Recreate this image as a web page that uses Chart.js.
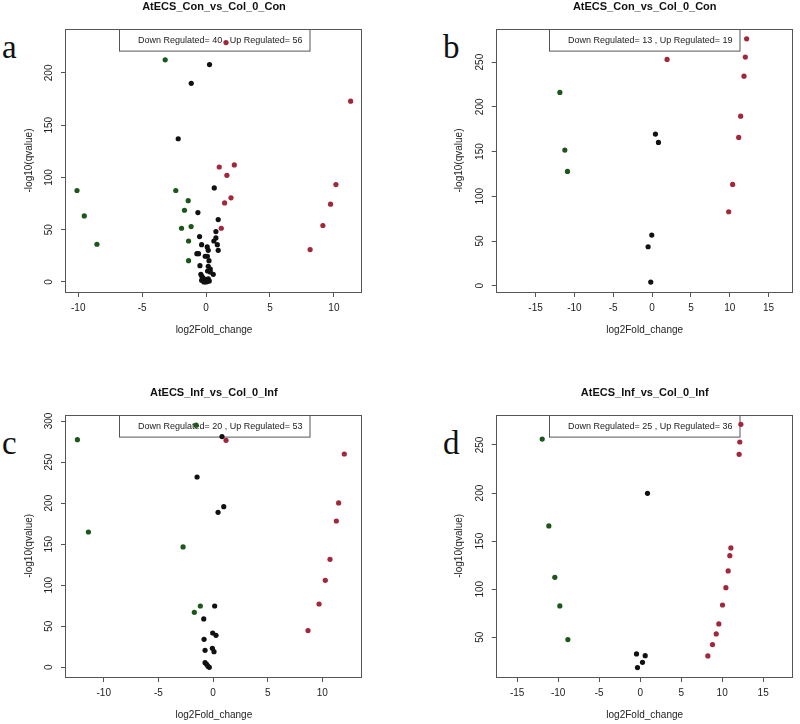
<!DOCTYPE html>
<html><head><meta charset="utf-8">
<script src="https://cdn.jsdelivr.net/npm/chart.js@4.4.1/dist/chart.umd.min.js"></script>
<style>
body{margin:0;background:#fff;width:800px;height:724px;position:relative;overflow:hidden;}
canvas{position:absolute;}
.lab{position:absolute;font-family:"Liberation Serif","DejaVu Serif",serif;font-size:33px;line-height:33px;color:#111;}
</style></head><body>
<div class="lab" style="left:2px;top:30.6px">a</div>
<div class="lab" style="left:443px;top:30.6px">b</div>
<div class="lab" style="left:2px;top:427.3px">c</div>
<div class="lab" style="left:443px;top:427.3px">d</div>
<script>
// ---- data ----
const titleA = "AtECS_Con_vs_Col_0_Con";
const titleB = "AtECS_Con_vs_Col_0_Con";
const titleC = "AtECS_Inf_vs_Col_0_Inf";
const titleD = "AtECS_Inf_vs_Col_0_Inf";
const countsA = [40, 56];
const countsB = [13, 19];
const countsC = [20, 53];
const countsD = [25, 36];

const aDownX = [-10.1, -9.53, -8.54, -3.2, -2.37, -1.40, -1.69, -1.92, -1.37, -1.17, -1.37];
const aDownY = [87.5, 63.2, 36.1, 212.5, 87.5, 77.8, 68.6, 51.4, 20.4, 53, 39.2];
const aNsX = [-2.18, -1.16, 0.27, -0.64, 0.64, 0.95, 0.77, 0.77, 0.88, 0.95, 0.61, -0.51, -0.35, 0.09, 0.17, -0.72, -0.59, -0.07, 0.10, 0.23, -0.48, 0.17, 0.33, 0.12, 0.33, 0.56, -0.41, -0.33, -0.22, -0.10, 0.03, -0.35, 0.17, 0.25, -0.17, 0.00, 0.14];
const aNsY = [137, 190, 208, 66.4, 90, 59.7, 48.2, 42.1, 35.7, 30.3, 39.2, 43.4, 35.7, 33.5, 30.3, 27.1, 27.1, 24.6, 24.6, 20.4, 15.6, 15, 12.4, 10.5, 9.6, 7.3, 7.3, 5.4, 3.8, 2.2, 1.6, 1.6, 2.9, 1, 0, 0, 0.6];
const aUpX = [1.56, 11.31, 1.03, 2.21, 1.63, 1.45, 1.95, 1.19, 10.16, 9.74, 9.14, 8.14];
const aUpY = [229, 173, 110, 112, 102, 75.6, 80.5, 51.4, 93.2, 74.4, 54, 31];

const bDownX = [-11.87, -11.23, -10.89];
const bDownY = [216.1, 151.6, 127.8];
const bNsX = [0.43, 0.82, -0.04, -0.51, -0.17];
const bNsY = [169.5, 160.2, 56.6, 43.6, 4.1];
const bUpX = [1.93, 12.17, 12.0, 11.83, 11.4, 11.15, 10.37, 9.86];
const bUpY = [253, 276, 255.6, 234.3, 189.6, 165.8, 113.3, 82.7];

const cDownX = [-12.41, -11.4, -2.74, -1.16, -1.71, -1.55];
const cDownY = [277.3, 164.8, 146.6, 74.7, 67, 295];
const cNsX = [-1.46, 0.82, 0.46, 0.98, 0.15, -0.85, -0.82, -0.73, -0.03, 0.27, -0.06, 0.09, -0.73, -0.58, -0.46, -0.34];
const cNsY = [231.8, 281, 188.8, 195.7, 74.7, 58.9, 34.1, 20.7, 41.8, 39, 23.1, 19.1, 5.7, 3.7, 1.2, 0];
const cUpX = [1.19, 12.01, 11.49, 11.28, 10.7, 10.27, 9.7, 8.69];
const cUpY = [276.5, 259.8, 200.2, 178.2, 131.5, 106, 77.1, 44.7];

const dDownX = [-11.95, -11.14, -10.41, -9.8, -8.82];
const dDownY = [256.2, 165.8, 112.4, 82.6, 47.6];
const dNsX = [0.89, -0.45, 0.61, 0.28, -0.33];
const dNsY = [199.7, 32.7, 30.9, 24, 18.5];
const dUpX = [12.28, 12.15, 12.07, 11.06, 10.93, 10.73, 10.45, 10.04, 9.59, 9.27, 8.82, 8.25];
const dUpY = [271.5, 253.1, 240.3, 142.9, 134.9, 119, 101.6, 83.6, 63.9, 53.5, 42.4, 30.6];

const xTicksA = [-10, -5, 0, 5, 10];
const yTicksA = [0, 50, 100, 150, 200];
const xTicksB = [-15, -10, -5, 0, 5, 10, 15];
const yTicksB = [0, 50, 100, 150, 200, 250];
const xTicksC = [-10, -5, 0, 5, 10];
const yTicksC = [0, 50, 100, 150, 200, 250, 300];
const xTicksD = [-15, -10, -5, 0, 5, 10, 15];
const yTicksD = [50, 100, 150, 200, 250];

const xLabel = "log2Fold_change";
const yLabel = "-log10(qvalue)";

// ---- drawing ----
const FONT = '"Liberation Sans", Arial, Helvetica, sans-serif';
const COL_NS = '#111111', COL_DOWN = '#1b561b', COL_UP = '#a3263a', AXIS = '#555555', TXT = '#222222';

function zip(xs, ys) { return xs.map((x, i) => ({x: x, y: ys[i]})); }

const framePlugin = {
  id: 'frameLegend',
  beforeDatasetsDraw(chart, args, opts) {
    const ctx = chart.ctx, ca = chart.chartArea;
    const w = 190.5, h = 21.6;
    const cx = (ca.left + ca.right) / 2;
    const x0 = Math.round(cx - w / 2) + 0.5, y0 = Math.round(ca.top) + 0.5;
    ctx.save();
    ctx.fillStyle = '#fff';
    ctx.fillRect(x0, y0, w, h);
    ctx.strokeStyle = AXIS; ctx.lineWidth = 1;
    ctx.strokeRect(x0, y0, w, h);
    ctx.fillStyle = TXT;
    ctx.font = '9px ' + FONT;
    ctx.textAlign = 'left'; ctx.textBaseline = 'middle';
    ctx.fillText(opts.text, x0 + 18.5, y0 + h / 2 + 0.5);
    ctx.restore();
  },
  afterDatasetsDraw(chart) {
    const ctx = chart.ctx, ca = chart.chartArea;
    ctx.save();
    ctx.strokeStyle = AXIS; ctx.lineWidth = 1;
    const l = Math.round(ca.left) - 0.5, t = Math.round(ca.top) + 0.5;
    const r = Math.round(ca.right) - 0.5, b = Math.round(ca.bottom) + 0.5;
    ctx.strokeRect(l, t, r - l, b - t);
    ctx.restore();
  }
};

function panel(p) {
  const cv = document.createElement('canvas');
  cv.width = p.W; cv.height = p.H;
  cv.style.left = p.L + 'px'; cv.style.top = p.T + 'px';
  cv.style.width = p.W + 'px'; cv.style.height = p.H + 'px';
  document.body.appendChild(cv);
  const tLH = 13.2;
  const tPadTop = p.ty - p.T - tLH / 2;
  const tPadBot = p.bt - p.T - tLH - tPadTop;
  const xH = p.T + p.H - p.bb;
  const yW = p.bl - p.L;
  const aLH = 12;
  const ds = (data, c) => ({data: data, backgroundColor: c, borderColor: c, borderWidth: 0, pointRadius: 2.6, pointHoverRadius: 2.6});
  new Chart(cv, {
    type: 'scatter',
    data: {datasets: [ds(zip(p.nsX, p.nsY), COL_NS), ds(zip(p.downX, p.downY), COL_DOWN), ds(zip(p.upX, p.upY), COL_UP)]},
    options: {
      responsive: false, animation: false, devicePixelRatio: 1,
      layout: {padding: {left: 0, top: 0, right: p.L + p.W - p.br, bottom: 0}},
      plugins: {
        legend: {display: false}, tooltip: {enabled: false},
        title: {display: true, text: p.title, fullSize: false, color: '#111',
          font: {family: FONT, size: 11, weight: 'bold', lineHeight: 1.2},
          padding: {top: tPadTop, bottom: tPadBot}},
        frameLegend: {text: 'Down Regulated= ' + p.counts[0] + ' , Up Regulated= ' + p.counts[1]}
      },
      scales: {
        x: {type: 'linear', position: 'bottom', min: p.xmin, max: p.xmax,
          afterFit: s => { s.height = xH; },
          afterBuildTicks: s => { s.ticks = p.xt.map(v => ({value: v})); },
          border: {display: false},
          grid: {drawOnChartArea: false, drawTicks: true, tickLength: 5, color: AXIS},
          ticks: {color: TXT, font: {family: FONT, size: 10}, padding: 5.5, maxRotation: 0, autoSkip: false},
          title: {display: true, text: xLabel, color: TXT, font: {family: FONT, size: 10, lineHeight: 1.2},
            padding: {top: 0, bottom: p.T + p.H - (p.bb + 38.5) - 6}}
        },
        y: {type: 'linear', position: 'left', min: p.ymin, max: p.ymax,
          afterFit: s => { s.width = yW; },
          afterBuildTicks: s => { s.ticks = p.yt.map(v => ({value: v})); },
          border: {display: false},
          grid: {drawOnChartArea: false, drawTicks: true, tickLength: 5, color: AXIS},
          ticks: {color: TXT, font: {family: FONT, size: 10}, padding: 3, minRotation: 90, maxRotation: 90, crossAlign: 'center', autoSkip: false},
          title: {display: true, text: yLabel, color: TXT, font: {family: FONT, size: 10, lineHeight: 1.2},
            padding: {top: (p.bl - 37 - p.L) - aLH / 2, bottom: 0}}
        }
      }
    },
    plugins: [framePlugin]
  });
}

panel({L: 0, T: 0, W: 400, H: 345, bl: 66, bt: 29, br: 362, bb: 292, ty: 7,
  title: titleA, counts: countsA, xmin: -10.96, xmax: 12.2, ymin: -9.6, ymax: 242, xt: xTicksA, yt: yTicksA,
  downX: aDownX, downY: aDownY, nsX: aNsX, nsY: aNsY, upX: aUpX, upY: aUpY});
panel({L: 400, T: 0, W: 400, H: 345, bl: 496.7, bt: 29, br: 792.7, bb: 292, ty: 7,
  title: titleB, counts: countsB, xmin: -20, xmax: 18.1, ymin: -7, ymax: 287, xt: xTicksB, yt: yTicksB,
  downX: bDownX, downY: bDownY, nsX: bNsX, nsY: bNsY, upX: bUpX, upY: bUpY});
panel({L: 0, T: 370, W: 400, H: 354, bl: 66, bt: 414.7, br: 361.7, bb: 677, ty: 392.7,
  title: titleC, counts: countsC, xmin: -13.45, xmax: 13.6, ymin: -11.8, ymax: 307.7, xt: xTicksC, yt: yTicksC,
  downX: cDownX, downY: cDownY, nsX: cNsX, nsY: cNsY, upX: cUpX, upY: cUpY});
panel({L: 400, T: 370, W: 400, H: 354, bl: 496.7, bt: 414.7, br: 792.7, bb: 677, ty: 392.7,
  title: titleD, counts: countsD, xmin: -17.5, xmax: 18.6, ymin: 8.7, ymax: 281.5, xt: xTicksD, yt: yTicksD,
  downX: dDownX, downY: dDownY, nsX: dNsX, nsY: dNsY, upX: dUpX, upY: dUpY});
</script>
</body></html>
